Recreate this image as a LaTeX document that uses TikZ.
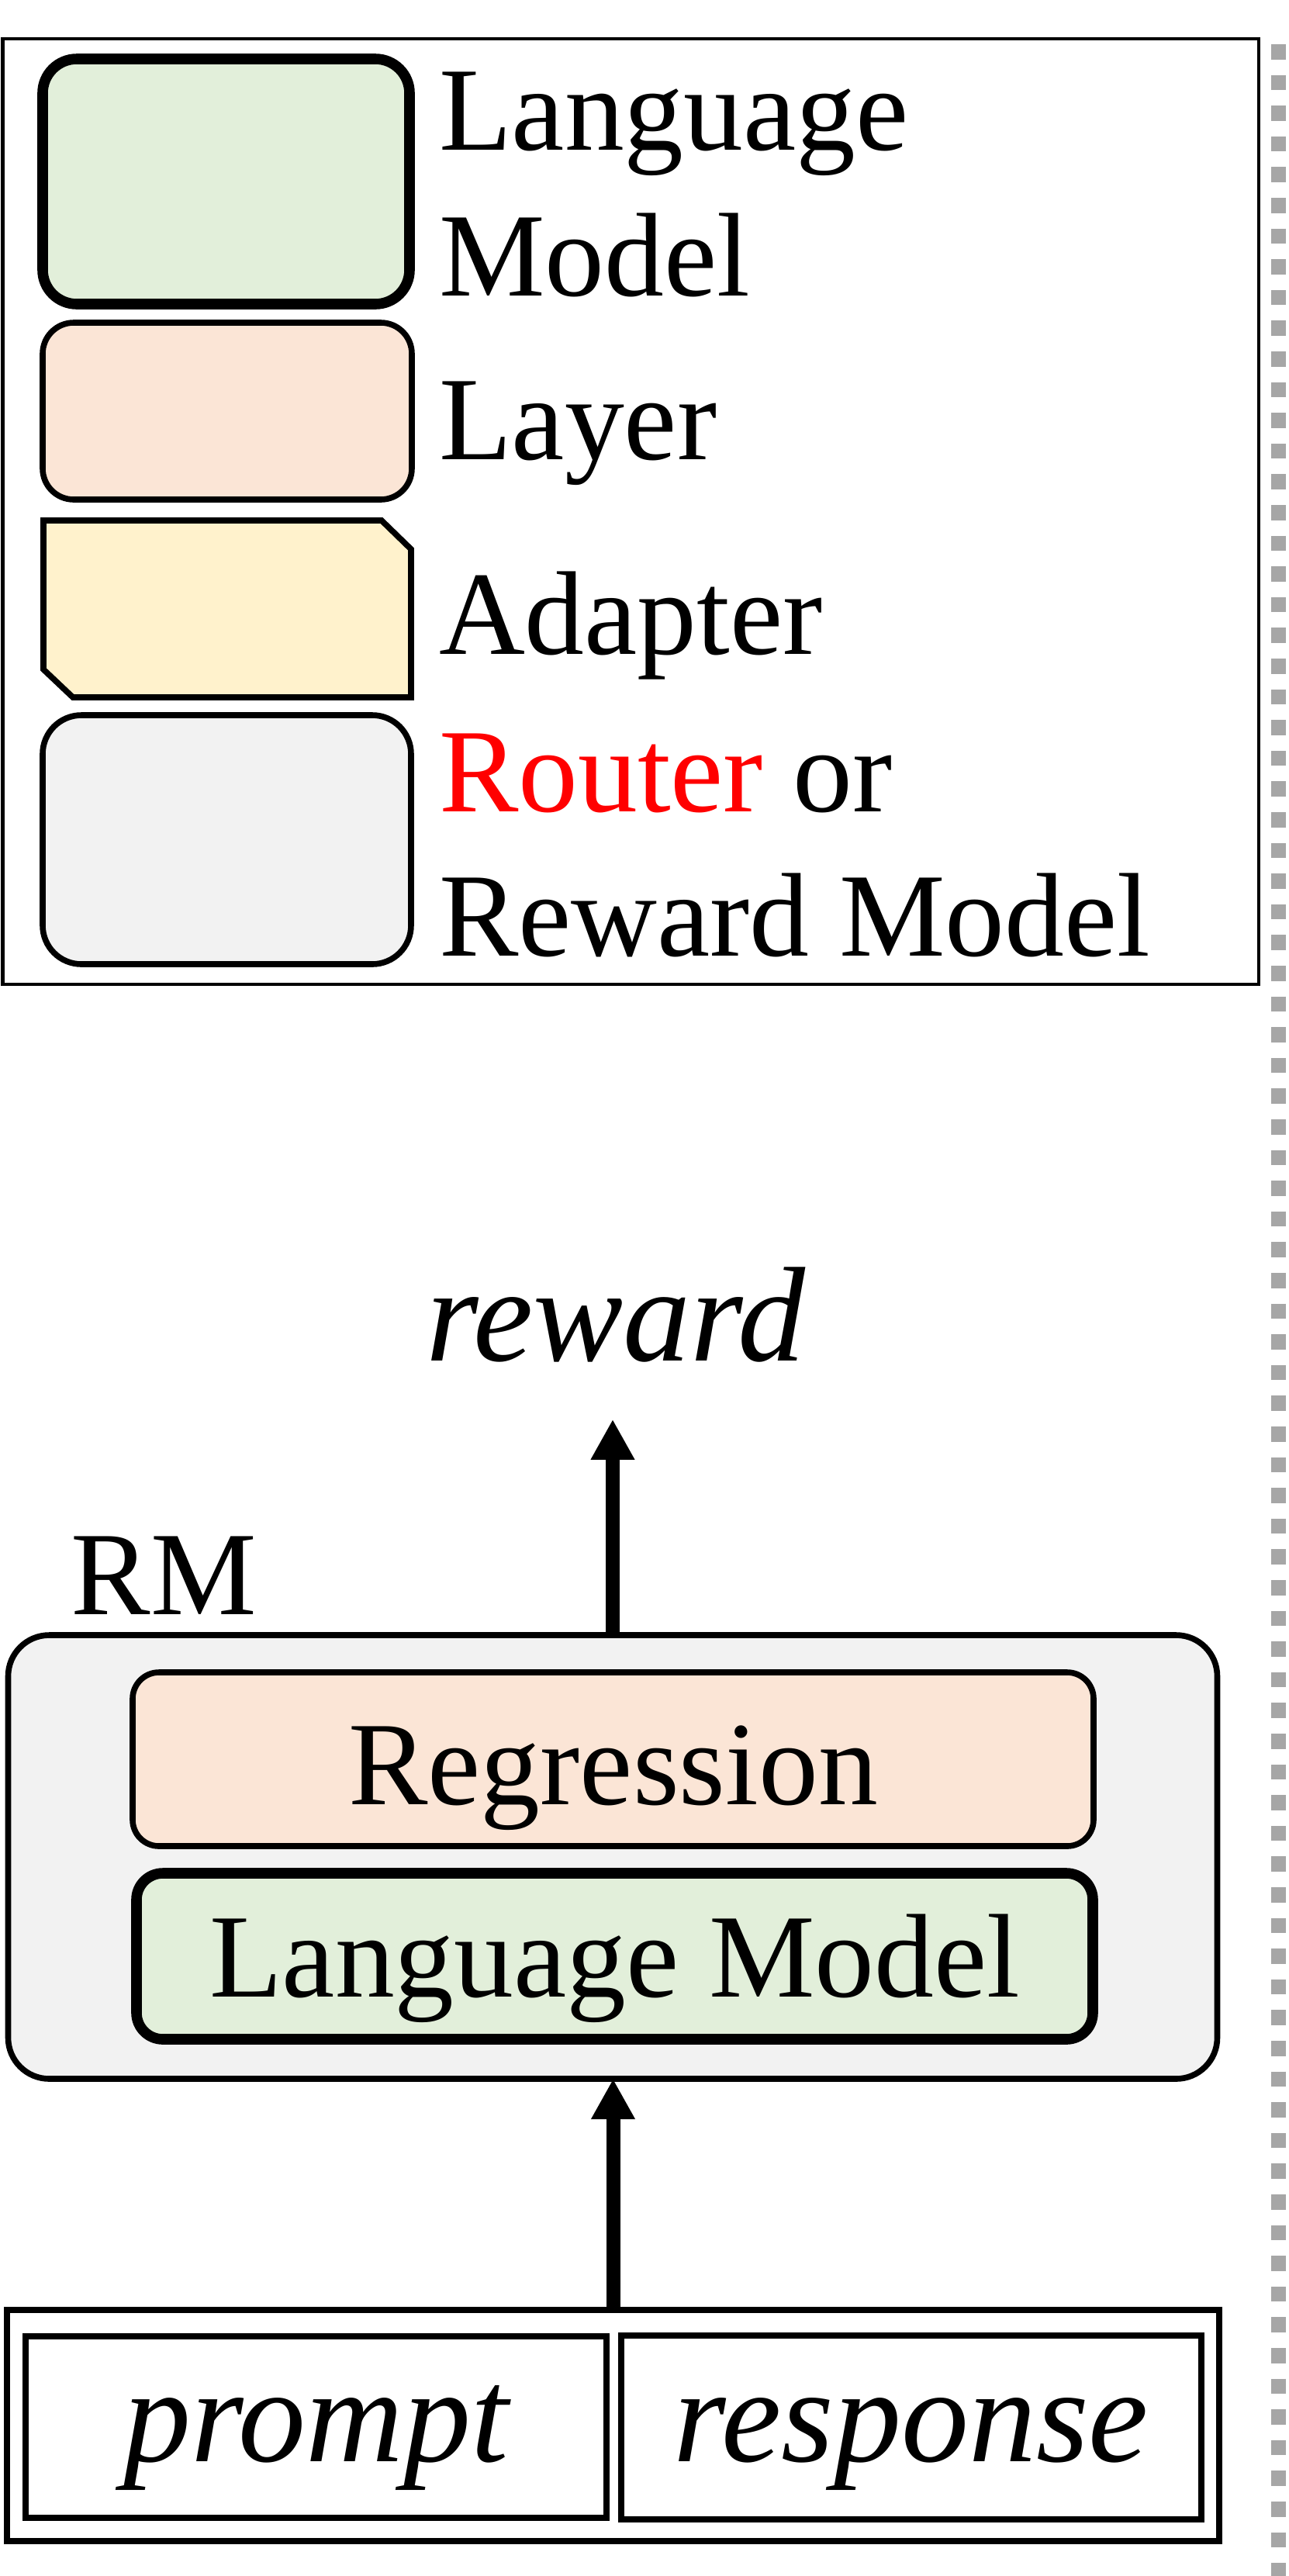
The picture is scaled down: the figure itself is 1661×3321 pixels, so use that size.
\documentclass[tikz,border=0pt]{standalone}
\usepackage{fontspec}
\setmainfont{Liberation Serif}
\usetikzlibrary{arrows.meta}
\definecolor{lmgreen}{HTML}{E2EFDA}
\definecolor{layerpink}{HTML}{FBE5D6}
\definecolor{adapteryellow}{HTML}{FFF2CC}
\definecolor{routergray}{HTML}{F2F2F2}
\definecolor{dashgray}{HTML}{A6A6A6}
\definecolor{routerred}{HTML}{FF0000}
\begin{document}
\begin{tikzpicture}[x=0.25pt,y=-0.25pt,
  every node/.style={font=\fontsize{38.4pt}{47pt}\selectfont, inner sep=0pt, outer sep=0pt},
  itl/.style={font=\fontsize{43.5pt}{52pt}\selectfont\itshape},
  sz/.style 2 args={minimum width=#1*0.25pt, minimum height=#2*0.25pt},
  lmbox/.style={draw=black, line width=3.4pt, fill=lmgreen, rounded corners=11pt},
  layerbox/.style={draw=black, line width=1.9pt, fill=layerpink, rounded corners=10pt},
  adapterbox/.style={draw=black, line width=1.9pt, fill=adapteryellow},
  routerbox/.style={draw=black, line width=1.9pt, fill=routergray, rounded corners=12.5pt},
  framebox/.style={draw=black, line width=1pt},
  plainbox/.style={draw=black, line width=2pt},
  lbl/.style={anchor=base west},
  arr/.style={line width=4.5pt, -{Triangle[width=13.25pt,length=13pt]}},
  dashline/.style={draw=dashgray, line width=4.75pt, dash pattern=on 4.9pt off 5pt}
]
\useasboundingbox (0,0) rectangle (1661,3321);

% separator
\coordinate (dtop) at (1648,57);
\coordinate (dbot) at (1648,3321);
\draw[dashline] (dtop) -- (dbot);

% legend
\node[framebox, sz={1619.5}{1219}] (legend) at (813.25,659.5) {};
\node[lmbox, sz={473}{316}] (lgLM) at (291.5,234) {};
\node[layerbox, sz={476}{228}] (lgLayer) at (293,530) {};
\draw[adapterbox] (56,671) -- (492,671) -- (530,708) -- (530,899) -- (94,899) -- (56,863) -- cycle;
\coordinate (lgAdapter) at (293,785);
\node[routerbox, sz={475}{321}] (lgRouter) at (292.5,1082.5) {};

\node[lbl] (tLMa) at (566,193) {Language};
\node[lbl] (tLMb) at (566,381) {Model};
\node[lbl] (tLayer) at (566,592.5) {Layer};
\node[lbl] (tAdapter) at (566,843) {Adapter};
\node[lbl] (tRoutera) at (566,1046) {\textcolor{routerred}{Router} or};
\node[lbl] (tRouterb) at (566,1232) {Reward Model};

% reward model
\node[itl, anchor=base] (reward) at (794,1754) {reward};
\node[lbl] (rmlabel) at (92,2081) {RM};
\node[routerbox, rounded corners=13.25pt, sz={1559}{572}] (rmbox) at (790,2394) {};
\node[layerbox, rounded corners=8.5pt, sz={1239}{224}, text height=29pt, text depth=0pt] (regr) at (790.5,2268) {Regression};
\node[lmbox, rounded corners=8.5pt, sz={1233}{214}, text height=26pt, text depth=0pt] (rmLM) at (792.5,2522) {Language Model};

% input
\node[plainbox, sz={1563}{298}] (input) at (790.5,3127) {};
\node[plainbox, itl, sz={749}{234}, text height=22pt, text depth=0pt] (prompt) at (407.5,3129) {prompt};
\node[plainbox, itl, sz={748}{237}, text height=22pt, text depth=0pt] (response) at (1175,3129) {response};

% connectors
\draw[arr, shorten >=18.5pt] (rmbox.north) -- (rmbox.north |- reward.south);
\draw[arr] (input.north) -- (input.north |- rmbox.south);
\end{tikzpicture}
\end{document}
